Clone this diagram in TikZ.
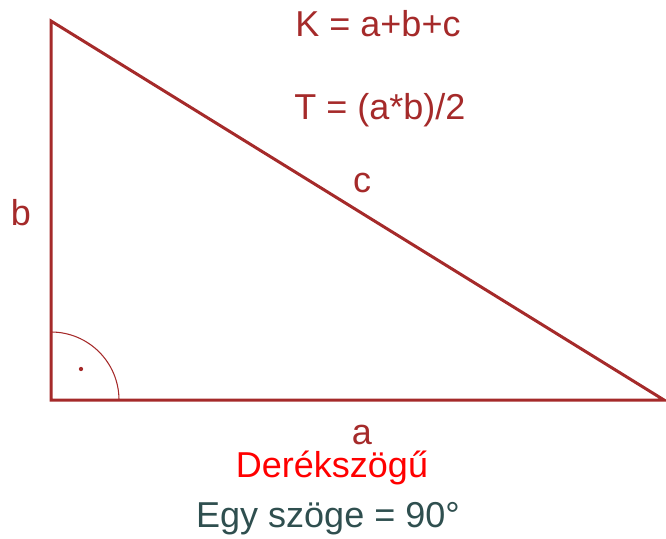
\documentclass[tikz,border=0pt]{standalone}
\usepackage{fontspec}
\setmainfont{Liberation Sans}
\definecolor{tribrown}{HTML}{A52A2A}
\definecolor{slate}{HTML}{2F4F4F}
\begin{document}
\begin{tikzpicture}[x=0.75pt,y=-0.75pt,
  lbl/.style={inner sep=0pt,anchor=base,font=\fontsize{27}{32}\selectfont,text=tribrown},
  side/.style={draw=tribrown,line width=2.25pt,line join=miter},
  rightarc/.style={draw=tribrown,line width=0.8pt}]
\useasboundingbox (0,0) rectangle (666,538);
\coordinate (A) at (51,21);
\coordinate (C) at (51,400);
\coordinate (B) at (664,400);
\draw[side] (A) -- (C) -- (B) -- cycle;
\draw[rightarc] (51,332) arc[start angle=-90,end angle=0,radius=68];
\fill[tribrown] (81,369) circle[radius=1.6pt];
\node[lbl] (K) at (378,37) {K = a+b+c};
\node[lbl] (T) at (380,120) {T = (a*b)/2};
\node[lbl] (lc) at (362,193) {c};
\node[lbl] (lb) at (21,225) {b};
\node[lbl] (la) at (362,444) {a};
\node[lbl,text=red] (D) at (332,477) {Derékszögű};
\node[lbl,text=slate] (E) at (328,527) {Egy szöge = 90°};
\end{tikzpicture}
\end{document}
